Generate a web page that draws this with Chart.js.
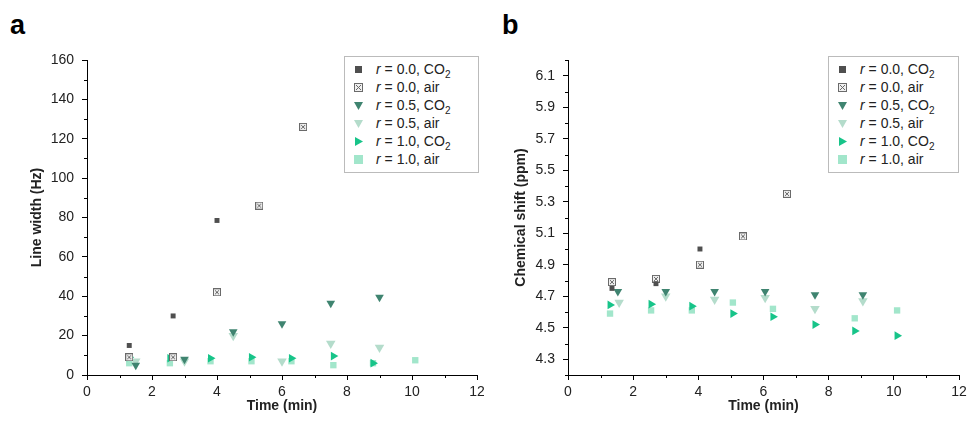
<!DOCTYPE html>
<html>
<head>
<meta charset="utf-8">
<script src="https://cdn.jsdelivr.net/npm/chart.js@4/dist/chart.umd.min.js"></script>
<style>
  html, body { margin: 0; padding: 0; background: #fff; }
  #wrap { position: relative; width: 969px; height: 428px; font-family: "Liberation Sans", Arial, sans-serif; }
  .panel { position: absolute; top: 0; width: 484px; height: 428px; }
  .tag { position: absolute; top: 10px; font: bold 27px "Liberation Sans", Arial, sans-serif; color: #000; }
  .legend { position: absolute; border: 1px solid #bbb; background: #fff; padding: 3px 8px 4px 8px; font-size: 14px; color: #222; }
  .legend .row { height: 18px; line-height: 18px; white-space: nowrap; }
  .legend svg { vertical-align: middle; margin-right: 12px; position: relative; top: -1px; }
  .legend sub { font-size: 10px; line-height: 0; }
</style>
</head>
<body>
<div id="wrap">
  <div class="tag" style="left:10px">a</div>
  <div class="tag" style="left:502px">b</div>
  <div class="panel" style="left:0"><canvas id="chart-a" width="484" height="428"></canvas></div>
  <div class="panel" style="left:484px"><canvas id="chart-b" width="485" height="428"></canvas></div>
  <div class="legend" id="legend-a" style="left:344px; top:56px; width:117px"></div>
  <div class="legend" id="legend-b" style="left:828px; top:56px; width:113px"></div>
</div>
<script>
// ---- data: panel a (line width, Hz) ----
var aR00co2X = [1.3, 2.65, 4.0];
var aR00co2Y = [15, 30, 78.5];
var aR00airX = [1.3, 2.65, 4.0, 5.3, 6.65];
var aR00airY = [9, 9, 42, 86, 126];
var aR05co2X = [1.5, 3.0, 4.5, 6.0, 7.5, 9.0];
var aR05co2Y = [5, 8, 22, 26, 36.5, 39.5];
var aR05airX = [1.5, 3.0, 4.5, 6.0, 7.5, 9.0];
var aR05airY = [7, 7, 20, 7, 16, 14];
var aR10co2X = [1.3, 2.55, 3.8, 5.06, 6.29, 7.58, 8.8];
var aR10co2Y = [9, 8.5, 8.5, 9, 8.5, 9.6, 6];
var aR10airX = [1.3, 2.55, 3.8, 5.06, 6.29, 7.58, 8.8, 10.1];
var aR10airY = [6, 6, 7, 7, 7, 5, 6, 7.5];

// ---- data: panel b (chemical shift, ppm) ----
var bR00co2X = [1.35, 2.7, 4.05];
var bR00co2Y = [4.75, 4.78, 5.0];
var bR00airX = [1.35, 2.7, 4.05, 5.37, 6.72];
var bR00airY = [4.79, 4.81, 4.90, 5.08, 5.35];
var bR05co2X = [1.53, 3.0, 4.5, 6.05, 7.58, 9.05];
var bR05co2Y = [4.73, 4.73, 4.73, 4.73, 4.71, 4.71];
var bR05airX = [1.57, 3.0, 4.5, 6.05, 7.58, 9.05];
var bR05airY = [4.66, 4.70, 4.68, 4.69, 4.62, 4.67];
var bR10co2X = [1.29, 2.55, 3.8, 5.06, 6.29, 7.58, 8.8, 10.1];
var bR10co2Y = [4.645, 4.65, 4.637, 4.59, 4.57, 4.52, 4.48, 4.45];
var bR10airX = [1.29, 2.55, 3.8, 5.06, 6.29, 8.8, 10.1];
var bR10airY = [4.59, 4.61, 4.61, 4.66, 4.62, 4.56, 4.61];

var seriesLabels = ["0.0", "0.0", "0.5", "0.5", "1.0", "1.0"];
var seriesGas = ["CO2", "air", "CO2", "air", "CO2", "air"];

var xTicksMin = 0, xTicksMax = 12;

(function () {
  var colors = {
    r00co2: "#4f4f4f",
    r00air: "#6a6a6a",
    r05co2: "#3f8470",
    r05air: "#b4dccb",
    r10co2: "#17c489",
    r10air: "#a2e6cb"
  };

  function hatchedSquare() {
    var c = document.createElement("canvas");
    c.width = 8; c.height = 8;
    var g = c.getContext("2d");
    g.fillStyle = "#f0f0f0";
    g.fillRect(0, 0, 8, 8);
    g.strokeStyle = colors.r00air;
    g.lineWidth = 1;
    g.strokeRect(0.5, 0.5, 7, 7);
    g.beginPath();
    g.moveTo(2, 2); g.lineTo(6, 6);
    g.moveTo(6, 2); g.lineTo(2, 6);
    g.stroke();
    return c;
  }

  function pts(xs, ys) {
    var out = [];
    for (var i = 0; i < xs.length; i++) out.push({ x: xs[i], y: ys[i] });
    return out;
  }

  function makeSets(d) {
    var hatch = hatchedSquare();
    return [
      { data: pts(d[0], d[1]), pointStyle: "rect", radius: 3.5, backgroundColor: colors.r00co2, borderColor: colors.r00co2 },
      { data: pts(d[2], d[3]), pointStyle: hatch, radius: 4, backgroundColor: colors.r00air, borderColor: colors.r00air },
      { data: pts(d[4], d[5]), pointStyle: "triangle", rotation: 180, radius: 5, backgroundColor: colors.r05co2, borderColor: colors.r05co2 },
      { data: pts(d[6], d[7]), pointStyle: "triangle", rotation: 180, radius: 5.5, backgroundColor: colors.r05air, borderColor: colors.r05air },
      { data: pts(d[8], d[9]), pointStyle: "triangle", rotation: 90, radius: 5, backgroundColor: colors.r10co2, borderColor: colors.r10co2 },
      { data: pts(d[10], d[11]), pointStyle: "rect", radius: 4.5, backgroundColor: colors.r10air, borderColor: colors.r10air }
    ].map(function (s) {
      s.borderWidth = 0;
      s.pointRadius = s.radius;
      s.pointHoverRadius = s.radius;
      s.showLine = false;
      return s;
    });
  }

  // short ticks for the unlabelled steps
  var minorTicks = {
    id: "minorTicks",
    afterDraw: function (chart) {
      var ctx = chart.ctx;
      ctx.save();
      ctx.strokeStyle = "#000";
      ctx.lineWidth = 1;
      ["x", "y"].forEach(function (id) {
        var sc = chart.scales[id];
        sc.ticks.forEach(function (t, i) {
          var lab = sc.options.ticks.callback.call(sc, t.value, i, sc.ticks);
          if (lab !== "") return;
          var p = sc.getPixelForValue(t.value);
          ctx.beginPath();
          if (id === "x") {
            ctx.moveTo(Math.round(p) + 0.5, sc.top);
            ctx.lineTo(Math.round(p) + 0.5, sc.top + 3);
          } else {
            ctx.moveTo(sc.right, Math.round(p) + 0.5);
            ctx.lineTo(sc.right - 3, Math.round(p) + 0.5);
          }
          ctx.stroke();
        });
      });
      ctx.restore();
    }
  };

  var tickFont = { family: "'Liberation Sans', Arial, sans-serif", size: 14 };
  var titleFont = { family: "'Liberation Sans', Arial, sans-serif", size: 14, weight: "bold" };

  function axisGrid(isMajor) {
    return {
      display: true,
      drawOnChartArea: false,
      drawTicks: true,
      tickLength: 5,
      tickColor: function (c) { return isMajor(c.tick ? c.tick.value : 0) ? "#000" : "rgba(0,0,0,0)"; }
    };
  }

  function build(canvasId, sets, yCfg, padLeft, yWidth, padRight) {
    var xMajor = function (v) { return Math.round(v) % 2 === 0; };
    new Chart(document.getElementById(canvasId), {
      type: "scatter",
      data: { datasets: sets },
      options: {
        responsive: false,
        animation: false,
        events: [],
        layout: { padding: { left: padLeft, right: padRight, top: 60, bottom: 13 } },
        plugins: { legend: { display: false }, tooltip: { enabled: false } },
        scales: {
          x: {
            type: "linear",
            min: xTicksMin,
            max: xTicksMax,
            afterFit: function (s) { s.height = 40; s.paddingRight = 0; },
            border: { display: true, color: "#000", width: 1 },
            grid: axisGrid(xMajor),
            ticks: {
              stepSize: 1,
              autoSkip: false,
              maxRotation: 0,
              padding: 4,
              color: "#222",
              font: tickFont,
              callback: function (v) { return xMajor(v) ? String(Math.round(v)) : ""; }
            },
            title: { display: true, text: "Time (min)", color: "#222", font: titleFont, padding: { top: 0, bottom: 0 } }
          },
          y: {
            type: "linear",
            min: yCfg.min,
            max: yCfg.max,
            afterFit: function (s) { s.width = yWidth; s.paddingTop = 0; s.paddingBottom = 0; },
            border: { display: true, color: "#000", width: 1 },
            grid: axisGrid(yCfg.isMajor),
            ticks: {
              stepSize: yCfg.step,
              autoSkip: false,
              padding: 8,
              color: "#222",
              font: tickFont,
              callback: function (v) { return yCfg.isMajor(v) ? yCfg.fmt(v) : ""; }
            },
            title: { display: true, text: yCfg.title, color: "#222", font: titleFont, padding: { top: 0, bottom: 0 } }
          }
        }
      },
      plugins: [minorTicks]
    });
  }

  build("chart-a",
    makeSets([aR00co2X, aR00co2Y, aR00airX, aR00airY, aR05co2X, aR05co2Y, aR05airX, aR05airY, aR10co2X, aR10co2Y, aR10airX, aR10airY]),
    {
      min: 0, max: 160, step: 10, title: "Line width (Hz)",
      isMajor: function (v) { return Math.round(v) % 20 === 0; },
      fmt: function (v) { return String(Math.round(v)); }
    }, 29, 58, 7);

  build("chart-b",
    makeSets([bR00co2X, bR00co2Y, bR00airX, bR00airY, bR05co2X, bR05co2Y, bR05airX, bR05airY, bR10co2X, bR10co2Y, bR10airX, bR10airY]),
    {
      min: 4.2, max: 6.2, step: 0.1, title: "Chemical shift (ppm)",
      isMajor: function (v) { return Math.round(v * 10) % 2 === 1; },
      fmt: function (v) { return v.toFixed(1); }
    }, 29, 55, 10);

  // html legends
  function marker(i) {
    var c = [colors.r00co2, colors.r00air, colors.r05co2, colors.r05air, colors.r10co2, colors.r10air][i];
    var shape;
    if (i === 0) shape = '<rect x="2" y="2" width="7" height="7" fill="' + c + '"/>';
    else if (i === 1) shape = '<rect x="1.5" y="1.5" width="8" height="8" fill="#f0f0f0" stroke="' + c + '"/><path d="M3 3L8 8M8 3L3 8" stroke="' + c + '"/>';
    else if (i === 2 || i === 3) shape = '<path d="M1 2L10 2L5.5 10Z" fill="' + c + '"/>';
    else if (i === 4) shape = '<path d="M2 1L10 5.5L2 10Z" fill="' + c + '"/>';
    else shape = '<rect x="1" y="1" width="9" height="9" fill="' + c + '"/>';
    return '<svg width="11" height="11">' + shape + "</svg>";
  }

  function fillLegend(id) {
    var el = document.getElementById(id);
    var html = "";
    for (var i = 0; i < seriesLabels.length; i++) {
      var gas = seriesGas[i] === "CO2" ? "CO<sub>2</sub>" : "air";
      html += '<div class="row">' + marker(i) + "<i>r</i> = " + seriesLabels[i] + ", " + gas + "</div>";
    }
    el.innerHTML = html;
  }
  fillLegend("legend-a");
  fillLegend("legend-b");
})();
</script>
</body>
</html>
